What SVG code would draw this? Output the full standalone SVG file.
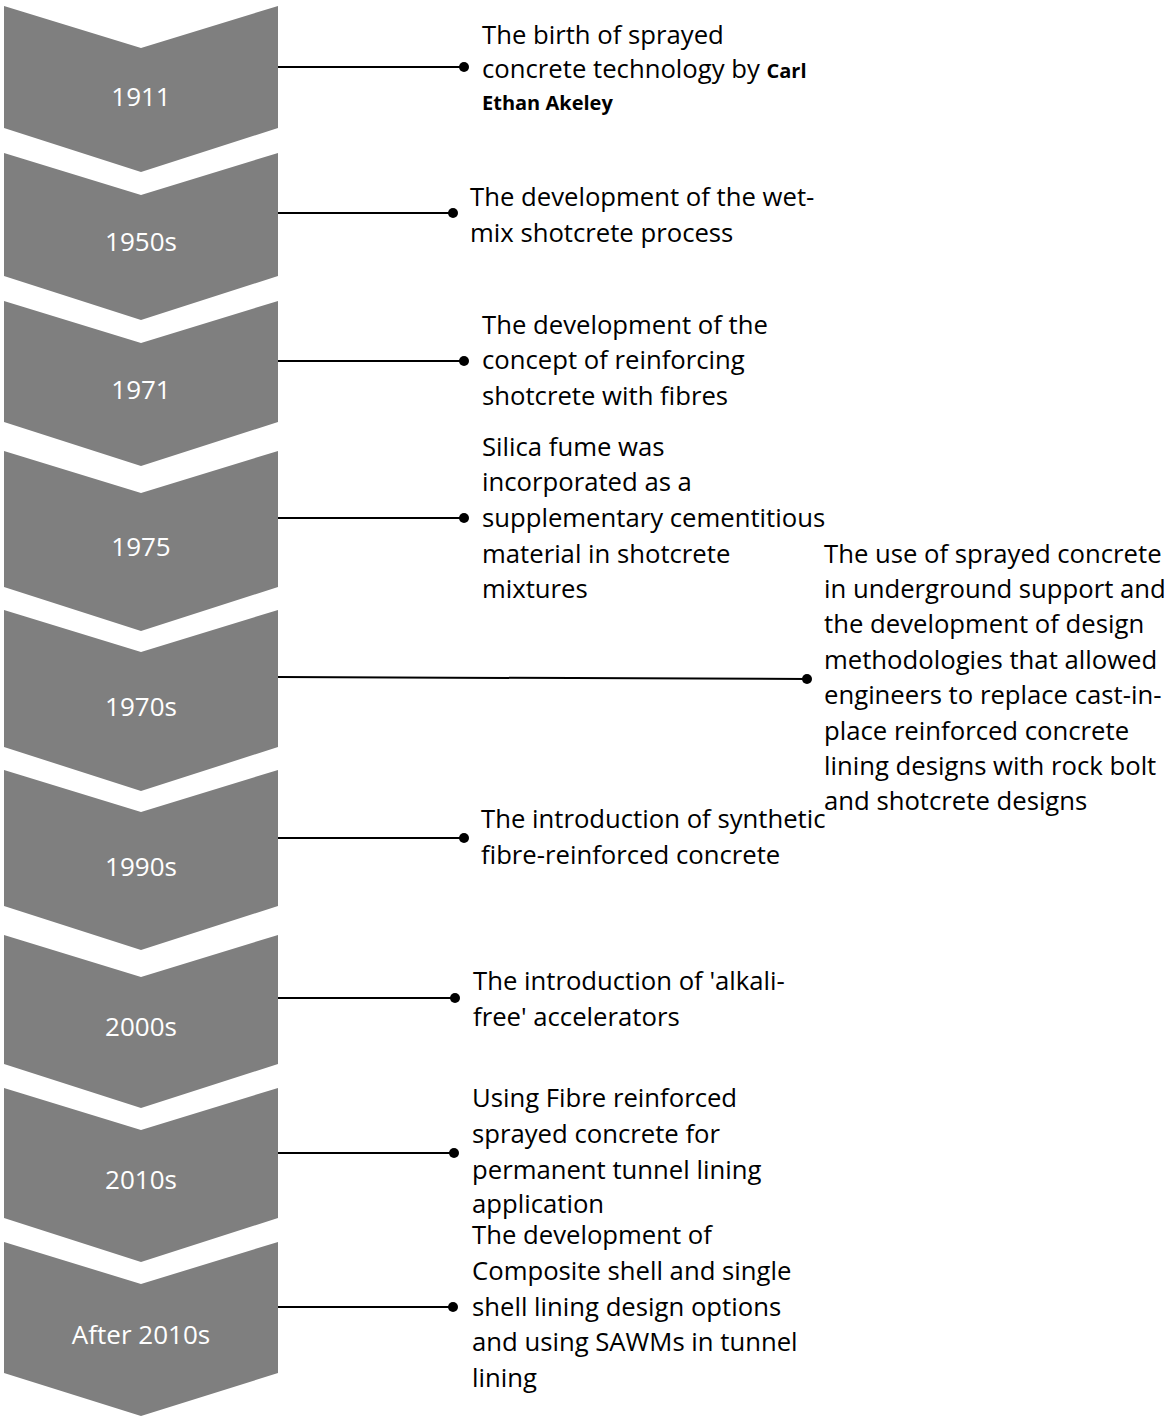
<svg xmlns="http://www.w3.org/2000/svg" width="1168" height="1417" viewBox="0 0 1168 1417">
<style>
.chev{fill:#7f7f7f;}
.yr{font-family:"Open Sans","Noto Sans",sans-serif;font-size:26px;fill:#ffffff;text-anchor:middle;}
.desc{font-family:"Open Sans","Noto Sans",sans-serif;font-size:25.7px;fill:#000000;}
.bold{font-weight:bold;font-size:20px;}
.conn line{stroke:#000000;stroke-width:2;}
.conn circle{fill:#000000;}
</style>
<rect width="1168" height="1417" fill="#ffffff"/>

<g id="node-1911">
<polygon class="chev" points="4,6 141,48 278,6 278,128 141,172 4,128"/>
<text class="yr" x="141" y="106">1911</text>
<text class="desc"><tspan x="482" y="44">The birth of sprayed</tspan><tspan x="482" y="78">concrete technology by <tspan class="bold">Carl</tspan></tspan><tspan x="482" y="110" class="bold">Ethan Akeley</tspan></text>
</g>

<g id="node-1950s">
<polygon class="chev" points="4,153 141,195 278,153 278,276 141,320 4,276"/>
<text class="yr" x="141" y="251">1950s</text>
<text class="desc"><tspan x="470" y="206">The development of the wet-</tspan><tspan x="470" y="242">mix shotcrete process</tspan></text>
</g>

<g id="node-1971">
<polygon class="chev" points="4,301 141,343 278,301 278,422 141,466 4,422"/>
<text class="yr" x="141" y="399">1971</text>
<text class="desc"><tspan x="482" y="334">The development of the</tspan><tspan x="482" y="369">concept of reinforcing</tspan><tspan x="482" y="405">shotcrete with fibres</tspan></text>
</g>

<g id="node-1975">
<polygon class="chev" points="4,451 141,493 278,451 278,587 141,631 4,587"/>
<text class="yr" x="141" y="556">1975</text>
<text class="desc"><tspan x="482" y="456">Silica fume was</tspan><tspan x="482" y="491">incorporated as a</tspan><tspan x="482" y="527">supplementary cementitious</tspan><tspan x="482" y="563">material in shotcrete</tspan><tspan x="482" y="598">mixtures</tspan></text>
</g>

<g id="node-1970s">
<polygon class="chev" points="4,610 141,652 278,610 278,747 141,791 4,747"/>
<text class="yr" x="141" y="716">1970s</text>
<text class="desc"><tspan x="824" y="563">The use of sprayed concrete</tspan><tspan x="824" y="598">in underground support and</tspan><tspan x="824" y="633">the development of design</tspan><tspan x="824" y="669">methodologies that allowed</tspan><tspan x="824" y="704">engineers to replace cast-in-</tspan><tspan x="824" y="740">place reinforced concrete</tspan><tspan x="824" y="775">lining designs with rock bolt</tspan><tspan x="824" y="810">and shotcrete designs</tspan></text>
</g>

<g id="node-1990s">
<polygon class="chev" points="4,770 141,812 278,770 278,906 141,950 4,906"/>
<text class="yr" x="141" y="876">1990s</text>
<text class="desc"><tspan x="481" y="828">The introduction of synthetic</tspan><tspan x="481" y="864">fibre-reinforced concrete</tspan></text>
</g>

<g id="node-2000s">
<polygon class="chev" points="4,935 141,977 278,935 278,1064 141,1108 4,1064"/>
<text class="yr" x="141" y="1036">2000s</text>
<text class="desc"><tspan x="473" y="990">The introduction of 'alkali-</tspan><tspan x="473" y="1026">free' accelerators</tspan></text>
</g>

<g id="node-2010s">
<polygon class="chev" points="4,1088 141,1130 278,1088 278,1218 141,1262 4,1218"/>
<text class="yr" x="141" y="1189">2010s</text>
<text class="desc"><tspan x="472" y="1107">Using Fibre reinforced</tspan><tspan x="472" y="1143">sprayed concrete for</tspan><tspan x="472" y="1179">permanent tunnel lining</tspan><tspan x="472" y="1213">application</tspan></text>
</g>

<g id="node-after-2010s">
<polygon class="chev" points="4,1242 141,1284 278,1242 278,1373 141,1416 4,1373"/>
<text class="yr" x="141" y="1344">After 2010s</text>
<text class="desc"><tspan x="472" y="1244">The development of</tspan><tspan x="472" y="1280">Composite shell and single</tspan><tspan x="472" y="1316">shell lining design options</tspan><tspan x="472" y="1351">and using SAWMs in tunnel</tspan><tspan x="472" y="1387">lining</tspan></text>
</g>

<g id="connectors" class="conn">
<line x1="278" y1="67" x2="464" y2="67"/><circle cx="464" cy="67" r="5"/>
<line x1="278" y1="213" x2="453" y2="213"/><circle cx="453" cy="213" r="5"/>
<line x1="278" y1="361" x2="464" y2="361"/><circle cx="464" cy="361" r="5"/>
<line x1="278" y1="518" x2="464" y2="518"/><circle cx="464" cy="518" r="5"/>
<line x1="278" y1="677" x2="807" y2="679"/><circle cx="807" cy="679" r="5"/>
<line x1="278" y1="838" x2="464" y2="838"/><circle cx="464" cy="838" r="5"/>
<line x1="278" y1="998" x2="455" y2="998"/><circle cx="455" cy="998" r="5"/>
<line x1="278" y1="1153" x2="454" y2="1153"/><circle cx="454" cy="1153" r="5"/>
<line x1="278" y1="1307" x2="453" y2="1307"/><circle cx="453" cy="1307" r="5"/>
</g>
</svg>
